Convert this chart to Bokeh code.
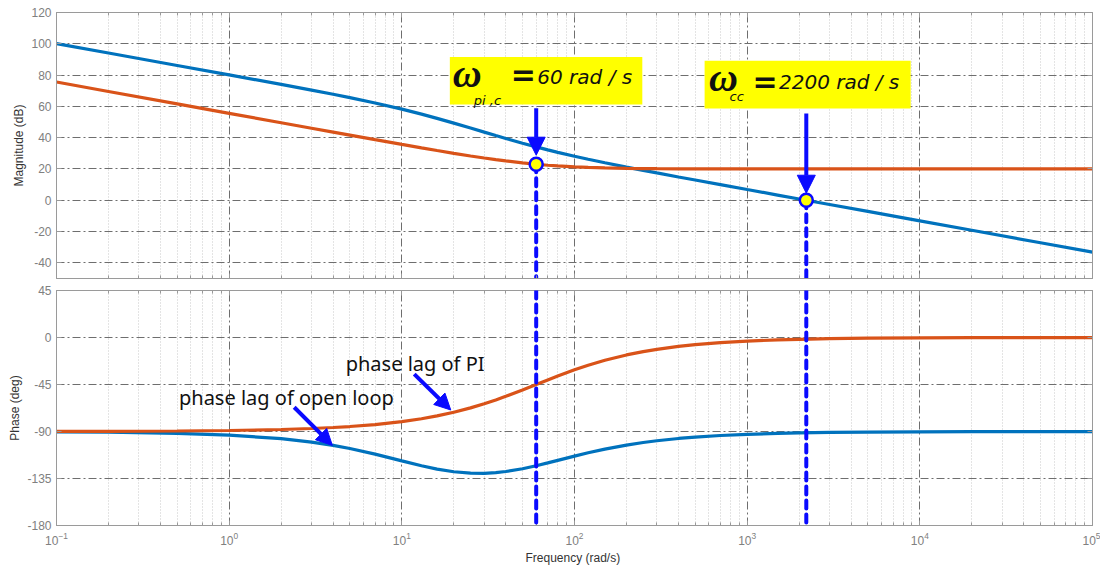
from bokeh.plotting import figure
from bokeh.layouts import column
from bokeh.models import (FixedTicker, Span, Arrow, NormalHead, Range1d,
                          LogAxis, LinearAxis, CustomJSTickFormatter)
from bokeh.embed import file_html
from bokeh.resources import INLINE
from bokeh.core.properties import value

# ---------------- data ----------------
freq = [0.1, 0.2, 0.5, 1, 2, 3, 4, 5, 7, 10, 13, 16, 20, 25, 30, 35, 40, 50, 60,
        70, 80, 100, 120, 150, 200, 250, 300, 400, 500, 700, 1000, 1500, 2000,
        3000, 5000, 10000, 20000, 50000, 100000]
mag_open = [100.13, 94.11, 86.15, 80.11, 74.02, 70.38, 67.72, 65.59, 62.19, 58.23,
            55.04, 52.35, 49.30, 46.15, 43.55, 41.36, 39.49, 36.46, 34.10, 32.19,
            30.61, 28.11, 26.19, 23.94, 21.19, 19.12, 17.47, 14.90, 12.93, 9.98,
            6.86, 3.33, 0.83, -2.69, -7.13, -13.15, -19.17, -27.13, -33.15]
mag_pi = [75.56, 69.54, 61.58, 55.56, 49.55, 46.03, 43.54, 41.61, 38.72, 35.68,
          33.48, 31.78, 30.00, 28.30, 26.99, 25.95, 25.12, 23.87, 23.01, 22.39,
          21.94, 21.34, 20.97, 20.64, 20.37, 20.24, 20.17, 20.10, 20.06, 20.03,
          20.02, 20.01, 20.00, 20.00, 20.00, 20.00, 20.00, 20.00, 20.00]
phase_open = [-90.35, -90.69, -91.73, -93.44, -96.84, -100.13, -103.29, -106.28,
              -111.65, -118.11, -122.77, -125.98, -128.55, -129.91, -130.00,
              -129.37, -128.31, -125.62, -122.77, -120.08, -117.64, -113.55,
              -110.39, -106.85, -102.98, -100.52, -98.83, -96.67, -95.35, -93.84,
              -92.69, -91.79, -91.35, -90.90, -90.54, -90.27, -90.13, -90.06, -90.03]
phase_pi = [-89.90, -89.81, -89.52, -89.05, -88.09, -87.14, -86.19, -85.24, -83.35,
            -80.54, -77.77, -75.07, -71.57, -67.38, -63.43, -59.74, -56.31, -50.19,
            -45.00, -40.60, -36.87, -30.96, -26.57, -21.80, -16.70, -13.50, -11.31,
            -8.53, -6.84, -4.90, -3.43, -2.29, -1.72, -1.15, -0.69, -0.34, -0.17,
            -0.07, -0.03]

x_ticks = [0.1, 1, 10, 100, 1000, 10000, 100000]
x_minor = [m * d for d in [0.1, 1, 10, 100, 1000, 10000] for m in range(2, 10)]
mag_ticks = [-40, -20, 0, 20, 40, 60, 80, 100, 120]
phase_ticks = [-180, -135, -90, -45, 0, 45]

mark_freq = [60, 2200]          # omega_pi,c and omega_cc
mark_mag = [23.0, 0.0]

BLUE = "#0072BD"
ORANGE = "#D95319"
ANN = "#0a0aff"
GRID = "#6e6e6e"
TICKC = "#9a9a9a"
LABC = "#808080"

xr = Range1d(0.1, 100000)


def blank():
    return CustomJSTickFormatter(code="return ''")


def style(p, yticks, ylabel, show_x):
    p.outline_line_color = TICKC
    p.xaxis.ticker = FixedTicker(ticks=x_ticks, minor_ticks=x_minor)
    p.yaxis.ticker = FixedTicker(ticks=yticks)
    p.yaxis.formatter = CustomJSTickFormatter(code="return tick.toString()")
    for ax in (p.xaxis[0], p.yaxis[0]):
        ax.axis_line_color = TICKC
        ax.major_tick_line_color = TICKC
        ax.minor_tick_line_color = TICKC
        ax.major_tick_in = 5
        ax.major_tick_out = 0
        ax.minor_tick_in = 3
        ax.minor_tick_out = 0
        ax.major_label_text_color = LABC
        ax.major_label_text_font = "Liberation Sans"
        ax.major_label_text_font_size = "12px"
        ax.axis_label_text_font = "Liberation Sans"
        ax.axis_label_text_font_size = "12px"
        ax.axis_label_text_font_style = "normal"
        ax.axis_label_text_color = "#333333"
    p.yaxis.minor_tick_line_color = None
    p.yaxis.axis_label = ylabel
    p.yaxis.major_label_standoff = 5
    p.yaxis.axis_label_standoff = 2
    if show_x:
        p.xaxis.axis_label = "Frequency  (rad/s)"
        p.xaxis.major_label_standoff = 6
        p.xaxis.axis_label_standoff = 3
    else:
        p.xaxis.formatter = blank()
        p.xaxis.major_label_text_font_size = "2px"
        p.xaxis.major_label_standoff = 0
    p.xgrid.grid_line_color = GRID
    p.xgrid.grid_line_dash = "8 3 2 3"
    p.xgrid.grid_line_width = 1
    p.xgrid.minor_grid_line_color = "#c8c8c8"
    p.xgrid.minor_grid_line_dash = "1 2"
    p.ygrid.grid_line_color = GRID
    p.ygrid.grid_line_dash = "8 3 2 3"
    p.ygrid.grid_line_width = 1
    # box ticks on top and right (MATLAB style)
    top = LogAxis(ticker=FixedTicker(ticks=x_ticks, minor_ticks=x_minor),
                  formatter=blank(), major_label_text_font_size="2px",
                  major_tick_in=5, major_tick_out=0,
                  minor_tick_in=3, minor_tick_out=0, axis_line_color=TICKC,
                  major_tick_line_color=TICKC, minor_tick_line_color=TICKC,
                  major_label_standoff=0)
    right = LinearAxis(ticker=FixedTicker(ticks=yticks), formatter=blank(),
                       major_label_text_font_size="2px",
                       major_tick_in=5, major_tick_out=0, minor_tick_line_color=None,
                       axis_line_color=TICKC, major_tick_line_color=TICKC,
                       major_label_standoff=0)
    p.add_layout(top, "above")
    p.add_layout(right, "right")


# ---------------- magnitude ----------------
p1 = figure(width=1100, height=284, x_axis_type="log", x_range=xr,
            y_range=Range1d(-50, 120), output_backend="svg", toolbar_location=None,
            min_border_left=56, min_border_right=8, min_border_top=12,
            min_border_bottom=6)
style(p1, mag_ticks, "Magnitude (dB)", False)

p1.line(freq, mag_open, line_color=BLUE, line_width=3.2)
p1.line(freq, mag_pi, line_color=ORANGE, line_width=3.2)

# yellow label boxes
p1.quad(left=[18.97, 567], right=[247, 8850], top=[91.6, 89.1], bottom=[61.2, 58.6],
        fill_color="#FFFF00", line_color=None)

# omega symbols
p1.text(x=[19.7, 601], y=[81.0, 78.5], text=["\u03c9", "\u03c9"],
        text_font=value("Liberation Serif"), text_font_style="bold italic",
        text_font_size="40px", text_baseline="alphabetic", text_align="left",
        text_color="#111111")
p1.text(x=[26.1, 790], y=[64.0, 66.5], text=["pi ,c", "cc"],
        text_font=value("DejaVu Sans"), text_font_style="italic",
        text_font_size="13px", text_baseline="alphabetic", text_align="left",
        text_color="#111111")
p1.text(x=[42.8, 1072], y=[80.2, 76.0], text=["=", "="],
        text_font=value("DejaVu Sans"), text_font_style="bold",
        text_font_size="30px", text_baseline="middle", text_align="left",
        text_color="#111111")
p1.text(x=[60.9, 1528], y=[78.6, 75.4], text=["60 rad / s", "2200 rad / s"],
        text_font=value("DejaVu Sans"), text_font_style="italic",
        text_font_size="20px", text_baseline="middle", text_align="left",
        text_color="#111111")

# dashed verticals below the marker points
p1.segment(x0=mark_freq, y0=mark_mag, x1=mark_freq, y1=[-50, -50],
           line_color=ANN, line_width=4, line_dash="8 6", line_cap="round")

# arrows from boxes to points
for xf, y0, y1 in [(60, 58.8, 28.8), (2200, 55.5, 4.5)]:
    p1.add_layout(Arrow(end=NormalHead(size=18, fill_color=ANN, line_color=ANN),
                        x_start=xf, y_start=y0, x_end=xf, y_end=y1,
                        line_color=ANN, line_width=4))

p1.scatter(mark_freq, mark_mag, size=13, fill_color="#FFFF00", line_color=ANN,
           line_width=2.5)

# ---------------- phase ----------------
p2 = figure(width=1100, height=283, x_axis_type="log", x_range=xr,
            y_range=Range1d(-180, 45), output_backend="svg", toolbar_location=None,
            min_border_left=56, min_border_right=8, min_border_top=6,
            min_border_bottom=39)
style(p2, phase_ticks, "Phase (deg)", True)

p2.line(freq, phase_open, line_color=BLUE, line_width=3.2)
p2.line(freq, phase_pi, line_color=ORANGE, line_width=3.2)

for xf in mark_freq:
    p2.add_layout(Span(location=xf, dimension="height", line_color=ANN,
                       line_width=4, line_dash="8 6", line_cap="round"))

p2.text(x=[4.73, 0.512], y=[-24.6, -57.9],
        text=["phase lag of PI", "phase lag of open loop"],
        text_font=value("Noto Sans"), text_font_size="20px",
        text_baseline="middle", text_align="left", text_color="#111111")

for xs, ys, xe, ye in [(11.8, -35.1, 19.2, -69.4), (2.38, -66.8, 3.96, -103.3)]:
    p2.add_layout(Arrow(end=NormalHead(size=16, fill_color=ANN, line_color=ANN),
                        x_start=xs, y_start=ys, x_end=xe, y_end=ye,
                        line_color=ANN, line_width=4))

layout = column(p1, p2, spacing=0)
open("out.html", "w").write(file_html(layout, INLINE))
